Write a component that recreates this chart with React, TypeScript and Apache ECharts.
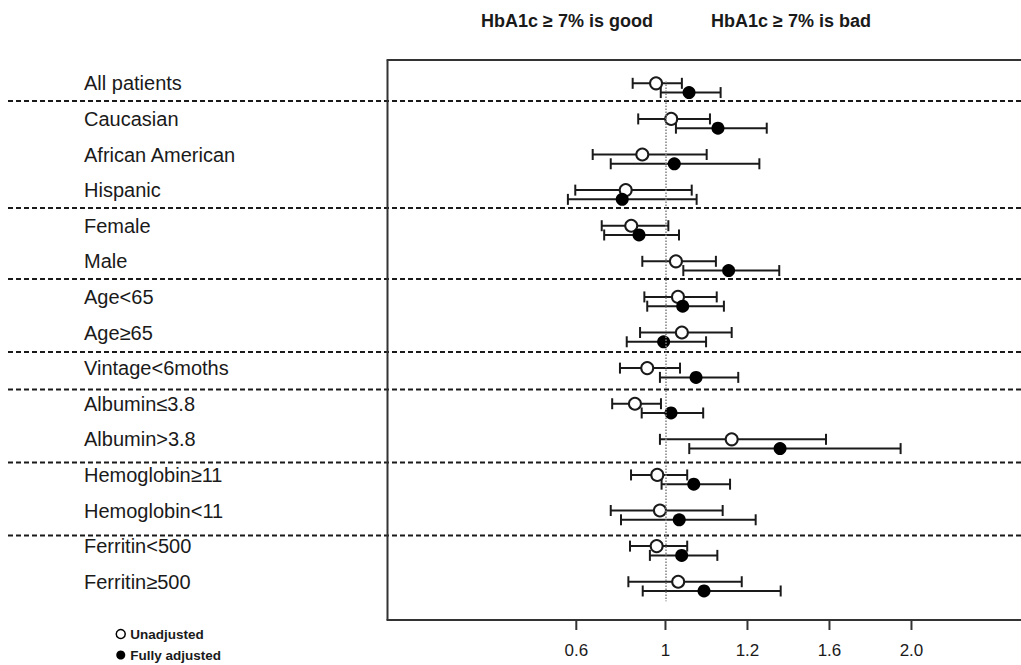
import React, { useEffect, useRef } from 'react';
import * as echarts from 'echarts';

const CATEGORIES = [
  'All patients',
  'Caucasian',
  'African American',
  'Hispanic',
  'Female',
  'Male',
  'Age<65',
  'Age≥65',
  'Vintage<6moths',
  'Albumin≤3.8',
  'Albumin>3.8',
  'Hemoglobin≥11',
  'Hemoglobin<11',
  'Ferritin<500',
  'Ferritin≥500',
];

// values on the drawn axis scale
const UNADJ_HR = [0.954, 1.028, 0.887, 0.806, 0.833, 1.051, 1.061, 1.08, 0.911, 0.851, 1.323, 0.96, 0.973, 0.957, 1.062];
const UNADJ_LO = [0.84, 0.867, 0.645, 0.56, 0.689, 0.887, 0.897, 0.876, 0.778, 0.74, 0.973, 0.832, 0.733, 0.827, 0.819];
const UNADJ_HI = [1.08, 1.217, 1.201, 1.128, 1.014, 1.246, 1.25, 1.323, 1.071, 0.978, 1.783, 1.106, 1.279, 1.106, 1.372];
const ADJ_HR = [1.115, 1.256, 1.043, 0.789, 0.871, 1.308, 1.084, 0.991, 1.149, 1.027, 1.559, 1.138, 1.067, 1.079, 1.188];
const ADJ_LO = [0.977, 1.051, 0.733, 0.524, 0.701, 1.087, 0.911, 0.811, 0.973, 0.884, 1.116, 0.981, 0.783, 0.924, 0.889];
const ADJ_HI = [1.269, 1.494, 1.458, 1.152, 1.066, 1.555, 1.285, 1.198, 1.355, 1.184, 2.147, 1.315, 1.44, 1.253, 1.562];

const TICK_POSITIONS = [0.565, 1, 1.4, 1.8, 2.2];
const TICK_LABELS = ['0.6', '1', '1.2', '1.6', '2.0'];
const SEPARATORS = [0.5, 3.5, 5.5, 7.55, 8.6, 10.65, 12.7];
const ADJ_OFFSET = 0.26;

const X_MIN = -0.356;
const X_MAX = 2.766;
const Y_MIN = -0.669;
const Y_AXIS_END = 15.075; // where the bottom axis line sits
const Y_MAX = 15.356; // grid extends a little below the axis line to hold the tick marks

const FONT = '"Liberation Sans", Arial, Helvetica, sans-serif';
const INK = '#1a1a1a';

export default function App() {
  const ref = useRef<HTMLDivElement>(null);

  useEffect(() => {
    if (!ref.current) return;
    const chart = echarts.init(ref.current, null, { renderer: 'svg' });

    const unadjBars = CATEGORIES.map((_, i) => [UNADJ_LO[i], UNADJ_HI[i], i]);
    const adjBars = CATEGORIES.map((_, i) => [ADJ_LO[i], ADJ_HI[i], i + ADJ_OFFSET]);
    const unadjPts = CATEGORIES.map((_, i) => [UNADJ_HR[i], i]);
    const adjPts = CATEGORIES.map((_, i) => [ADJ_HR[i], i + ADJ_OFFSET]);

    const errorBar = (params: any, api: any) => {
      const y = api.value(2);
      const p1 = api.coord([api.value(0), y]);
      const p2 = api.coord([api.value(1), y]);
      const h = 5.5;
      const style = { stroke: INK, lineWidth: 2 };
      return {
        type: 'group',
        children: [
          { type: 'line', shape: { x1: p1[0], y1: p1[1], x2: p2[0], y2: p2[1] }, style },
          { type: 'line', shape: { x1: p1[0], y1: p1[1] - h, x2: p1[0], y2: p1[1] + h }, style },
          { type: 'line', shape: { x1: p2[0], y1: p2[1] - h, x2: p2[0], y2: p2[1] + h }, style },
        ],
      };
    };

    const nearestLabel = (v: number) => {
      let best = 0;
      for (let i = 1; i < TICK_POSITIONS.length; i++) {
        if (Math.abs(TICK_POSITIONS[i] - v) < Math.abs(TICK_POSITIONS[best] - v)) best = i;
      }
      return TICK_LABELS[best];
    };

    const option: any = {
      animation: false,
      textStyle: { fontFamily: FONT },
      grid: {
        left: 387.5,
        top: 59.5,
        width: 640,
        height: 570.5,
        containLabel: false,
        outerBoundsMode: 'none',
      },
      legend: {
        orient: 'vertical',
        left: 115.5,
        top: 627,
        padding: 0,
        itemWidth: 9,
        itemHeight: 9,
        itemGap: 7,
        icon: 'circle',
        textStyle: { fontFamily: FONT, fontSize: 13.5, lineHeight: 14, fontWeight: 'bold', color: INK },
        data: [
          { name: 'Unadjusted', itemStyle: { color: '#fff', borderColor: '#000', borderWidth: 1.5 } },
          { name: 'Fully adjusted', itemStyle: { color: '#000', borderWidth: 0 } },
        ],
      },
      graphic: [
        {
          type: 'text',
          x: 567,
          y: 21,
          style: {
            text: 'HbA1c ≥ 7% is good',
            font: `bold 18px ${FONT}`,
            fill: INK,
            textAlign: 'center',
            textVerticalAlign: 'middle',
          },
        },
        {
          type: 'text',
          x: 791,
          y: 21,
          style: {
            text: 'HbA1c ≥ 7% is bad',
            font: `bold 18px ${FONT}`,
            fill: INK,
            textAlign: 'center',
            textVerticalAlign: 'middle',
          },
        },
      ],
      xAxis: [
        {
          type: 'value',
          position: 'bottom',
          min: X_MIN,
          max: X_MAX,
          splitLine: { show: false },
          axisLine: { show: false, onZero: false },
          axisTick: { show: false },
          axisLabel: {
            show: true,
            customValues: TICK_POSITIONS,
            formatter: (v: number) => nearestLabel(v),
            margin: 12,
            fontSize: 17,
            color: INK,
            fontFamily: FONT,
            backgroundColor: 'transparent',
          },
        },
        {
          type: 'value',
          position: 'top',
          min: X_MIN,
          max: X_MAX,
          splitLine: { show: false },
          axisLine: { show: true, onZero: false, lineStyle: { color: '#333', width: 2 } },
          axisTick: { show: false },
          axisLabel: { show: false },
        },
      ],
      yAxis: {
        type: 'value',
        inverse: true,
        position: 'left',
        min: Y_MIN,
        max: Y_MAX,
        splitLine: { show: false },
        axisLine: { show: false, onZero: false },
        axisTick: { show: false },
        axisLabel: {
          show: true,
          customValues: CATEGORIES.map((_, i) => i),
          formatter: (v: number) => CATEGORIES[Math.round(v)] ?? '',
          align: 'left',
          margin: 303.5,
          fontSize: 20,
          color: INK,
          fontFamily: FONT,
        },
      },
      series: [
        {
          // frame: left border and bottom axis line
          type: 'custom',
          name: 'frame',
          clip: false,
          silent: true,
          data: [[X_MIN, Y_AXIS_END]],
          encode: { x: 0, y: 1 },
          renderItem: (params: any, api: any) => {
            const cs = params.coordSys;
            const p = api.coord([api.value(0), api.value(1)]);
            const style = { stroke: '#333', lineWidth: 2 };
            return {
              type: 'group',
              children: [
                { type: 'line', shape: { x1: cs.x, y1: cs.y, x2: cs.x, y2: p[1] }, style },
                { type: 'line', shape: { x1: cs.x - 1, y1: p[1], x2: cs.x + cs.width, y2: p[1] }, style },
              ],
            };
          },
          z: 5,
        },
        {
          // tick marks below the bottom axis line
          type: 'custom',
          name: 'ticks',
          clip: false,
          silent: true,
          data: TICK_POSITIONS.map((v) => [v, Y_AXIS_END]),
          encode: { x: 0, y: 1 },
          renderItem: (params: any, api: any) => {
            const p = api.coord([api.value(0), api.value(1)]);
            return {
              type: 'rect',
              shape: { x: p[0] - 1, y: p[1], width: 2, height: 10 },
              style: { fill: '#333' },
            };
          },
          z: 6,
        },
        {
          type: 'custom',
          name: 'separators',
          clip: false,
          silent: true,
          data: SEPARATORS.map((v) => [0, v]),
          encode: { x: 0, y: 1 },
          renderItem: (params: any, api: any) => {
            const p = api.coord([0, api.value(1)]);
            const cs = params.coordSys;
            return {
              type: 'line',
              shape: { x1: 8, y1: p[1], x2: cs.x + cs.width + 10, y2: p[1] },
              style: { stroke: INK, lineWidth: 2, lineDash: [5, 3] },
            };
          },
          z: 1,
        },
        {
          type: 'custom',
          name: 'unadjBars',
          data: unadjBars,
          encode: { x: [0, 1], y: 2 },
          renderItem: errorBar,
          silent: true,
          z: 2,
          markLine: {
            silent: true,
            symbol: 'none',
            label: { show: false },
            lineStyle: { type: 'dotted', color: '#808080', width: 1.5 },
            data: [[{ coord: [1, -0.05] }, { coord: [1, 14.55] }]],
          },
        },
        {
          type: 'custom',
          name: 'adjBars',
          data: adjBars,
          encode: { x: [0, 1], y: 2 },
          renderItem: errorBar,
          silent: true,
          z: 2,
        },
        {
          type: 'scatter',
          name: 'Unadjusted',
          data: unadjPts,
          symbol: 'circle',
          symbolSize: 12,
          itemStyle: { color: '#fff', borderColor: INK, borderWidth: 2, opacity: 1 },
          z: 3,
        },
        {
          type: 'scatter',
          name: 'Fully adjusted',
          data: adjPts,
          symbol: 'circle',
          symbolSize: 13,
          itemStyle: { color: '#000', opacity: 1 },
          z: 4,
        },
      ],
    };

    chart.setOption(option);
    return () => chart.dispose();
  }, []);

  return (
    <div
      ref={ref}
      style={{ position: 'fixed', left: 0, top: 0, width: 1021, height: 665, background: '#fff' }}
    />
  );
}
